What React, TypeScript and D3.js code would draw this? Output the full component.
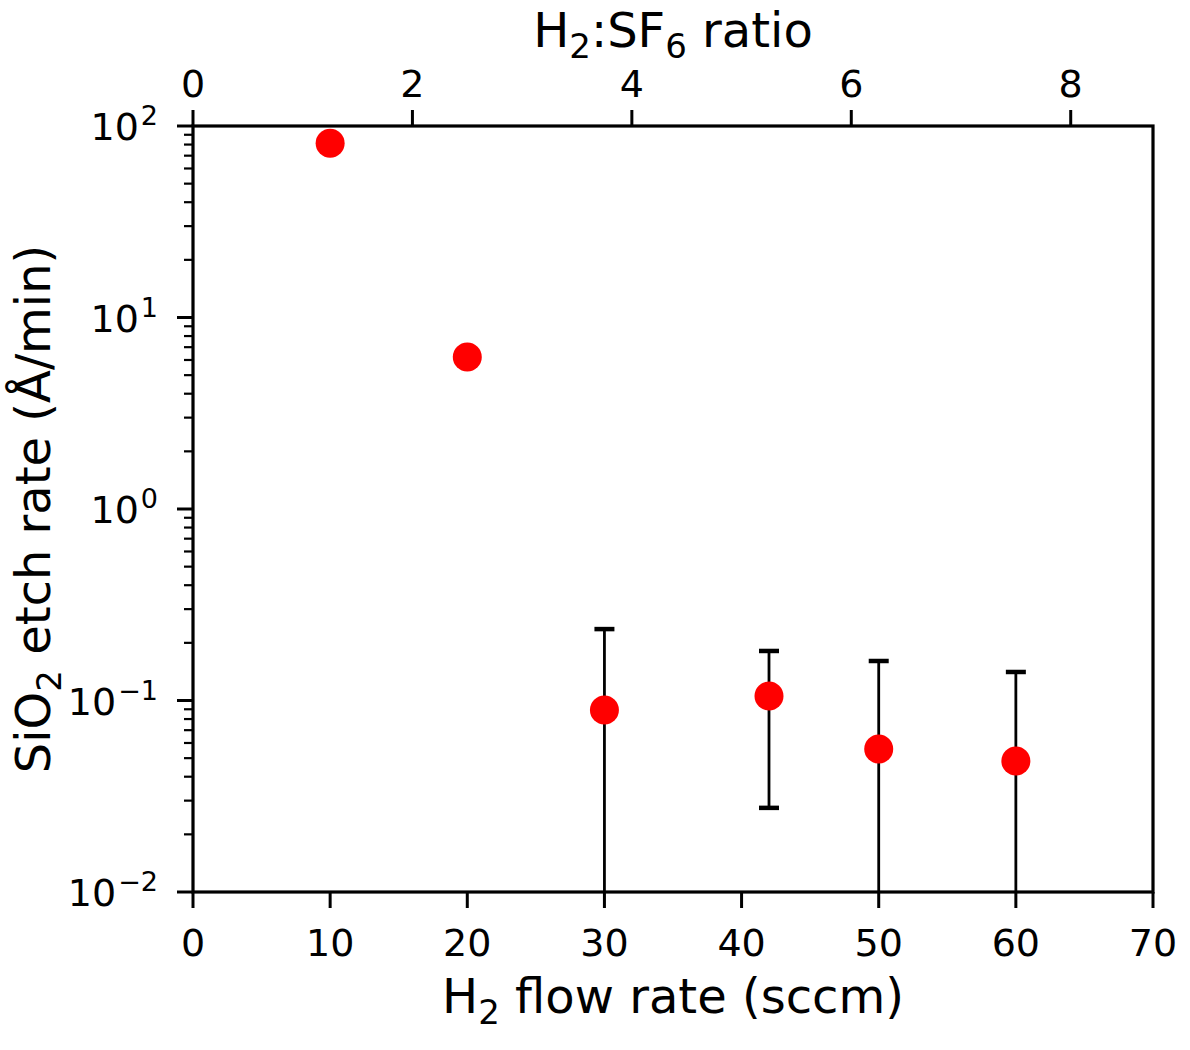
import { useEffect, useRef } from "react";
import * as d3 from "d3";

// H2 flow (sccm) and measured SiO2 etch rate (Å/min)
const flowRates = [10, 20, 30, 42, 50, 60];
const etchRates = [81.2, 6.22, 0.0892, 0.1056, 0.0558, 0.0483];
// error bar bounds, null = no bar, 0 = runs off the bottom of the axis
const errHigh = [null, null, 0.236, 0.1814, 0.1608, 0.1409];
const errLow = [null, null, 0, 0.0275, 0, 0];

const bottomTicks = [0, 10, 20, 30, 40, 50, 60, 70];
const topTicks = [0, 2, 4, 6, 8];
const yDecades = [-2, -1, 0, 1, 2];
const sf6Flow = 8; // ratio = H2 / 8 sccm SF6

const FONT = "DejaVu Sans, sans-serif";

const App = () => {
  const svgRef = useRef(null);

  useEffect(() => {
    if (!svgRef.current) return;
    d3.select(svgRef.current).selectAll("*").remove();

    const W = 1190;
    const H = 1050;
    const margin = { top: 126, right: 37, bottom: 158, left: 193 };
    const width = W - margin.left - margin.right;
    const height = H - margin.top - margin.bottom;

    const svg = d3
      .select(svgRef.current)
      .attr("width", W)
      .attr("height", H)
      .append("g")
      .attr("transform", `translate(${margin.left},${margin.top})`);

    const x = d3.scaleLinear().domain([0, 70]).range([0, width]);
    const xTop = d3
      .scaleLinear()
      .domain([0, 70 / sf6Flow])
      .range([0, width]);
    const y = d3.scaleLog().domain([0.01, 100]).range([height, 0]);
    const yMin = 0.01;

    // minor ticks on y (2..9 per decade)
    const minor: number[] = [];
    yDecades.slice(0, -1).forEach((e) => {
      for (let k = 2; k <= 9; k++) minor.push(k * Math.pow(10, e));
    });
    svg
      .selectAll(".minor")
      .data(minor)
      .enter()
      .append("line")
      .attr("x1", -9)
      .attr("x2", 0)
      .attr("y1", (d) => y(d))
      .attr("y2", (d) => y(d))
      .attr("stroke", "#000")
      .attr("stroke-width", 2.2);

    // major y ticks + labels 10^n
    yDecades.forEach((e) => {
      const yy = y(Math.pow(10, e));
      svg
        .append("line")
        .attr("x1", -16)
        .attr("x2", 0)
        .attr("y1", yy)
        .attr("y2", yy)
        .attr("stroke", "#000")
        .attr("stroke-width", 3);
      const t = svg
        .append("text")
        .attr("x", -35)
        .attr("y", yy + 14)
        .attr("text-anchor", "end")
        .attr("font-family", FONT)
        .attr("font-size", 38);
      t.append("tspan").text("10");
      t.append("tspan")
        .attr("dy", -15)
        .attr("dx", 2)
        .attr("font-size", 27)
        .text(e < 0 ? `\u2212${-e}` : `${e}`);
    });

    // bottom ticks
    bottomTicks.forEach((v) => {
      svg
        .append("line")
        .attr("x1", x(v))
        .attr("x2", x(v))
        .attr("y1", height)
        .attr("y2", height + 16)
        .attr("stroke", "#000")
        .attr("stroke-width", 3);
      svg
        .append("text")
        .attr("x", x(v))
        .attr("y", height + 64)
        .attr("text-anchor", "middle")
        .attr("font-family", FONT)
        .attr("font-size", 38)
        .text(v);
    });

    // top ticks (H2:SF6 ratio)
    topTicks.forEach((v) => {
      svg
        .append("line")
        .attr("x1", xTop(v))
        .attr("x2", xTop(v))
        .attr("y1", 0)
        .attr("y2", -16)
        .attr("stroke", "#000")
        .attr("stroke-width", 3);
      svg
        .append("text")
        .attr("x", xTop(v))
        .attr("y", -29)
        .attr("text-anchor", "middle")
        .attr("font-family", FONT)
        .attr("font-size", 38)
        .text(v);
    });

    // frame
    svg
      .append("rect")
      .attr("x", 0)
      .attr("y", 0)
      .attr("width", width)
      .attr("height", height)
      .attr("fill", "none")
      .attr("stroke", "#000")
      .attr("stroke-width", 3.2);

    // error bars
    const capW = 10;
    flowRates.forEach((f, i) => {
      const hi = errHigh[i];
      const lo = errLow[i];
      if (hi === null || lo === null) return;
      const cx = x(f);
      const yHi = y(hi);
      const yLo = y(Math.max(lo, yMin));
      svg
        .append("line")
        .attr("x1", cx)
        .attr("x2", cx)
        .attr("y1", yHi)
        .attr("y2", yLo)
        .attr("stroke", "#000")
        .attr("stroke-width", 2.8);
      svg
        .append("line")
        .attr("x1", cx - capW)
        .attr("x2", cx + capW)
        .attr("y1", yHi)
        .attr("y2", yHi)
        .attr("stroke", "#000")
        .attr("stroke-width", 4.5);
      if (lo > yMin) {
        svg
          .append("line")
          .attr("x1", cx - capW)
          .attr("x2", cx + capW)
          .attr("y1", yLo)
          .attr("y2", yLo)
          .attr("stroke", "#000")
          .attr("stroke-width", 4.5);
      }
    });

    // points
    svg
      .selectAll(".pt")
      .data(flowRates)
      .enter()
      .append("circle")
      .attr("cx", (d) => x(d))
      .attr("cy", (_d, i) => y(etchRates[i]))
      .attr("r", 14.5)
      .attr("fill", "#ff0000");

    // axis labels
    const xl = svg
      .append("text")
      .attr("x", width / 2)
      .attr("y", height + 121)
      .attr("text-anchor", "middle")
      .attr("font-family", FONT)
      .attr("font-size", 48);
    xl.append("tspan").text("H");
    xl.append("tspan").attr("dy", 11).attr("font-size", 34).text("2");
    xl.append("tspan").attr("dy", -11).text(" flow rate (sccm)");

    const tl = svg
      .append("text")
      .attr("x", width / 2)
      .attr("y", -79)
      .attr("text-anchor", "middle")
      .attr("font-family", FONT)
      .attr("font-size", 48);
    tl.append("tspan").text("H");
    tl.append("tspan").attr("dy", 11).attr("font-size", 34).text("2");
    tl.append("tspan").attr("dy", -11).text(":SF");
    tl.append("tspan").attr("dy", 11).attr("font-size", 34).text("6");
    tl.append("tspan").attr("dy", -11).text(" ratio");

    const yl = svg
      .append("text")
      .attr("transform", `translate(${-143},${height / 2}) rotate(-90)`)
      .attr("text-anchor", "middle")
      .attr("font-family", FONT)
      .attr("font-size", 48);
    yl.append("tspan").text("SiO");
    yl.append("tspan").attr("dy", 11).attr("font-size", 34).text("2");
    yl.append("tspan").attr("dy", -11).text(" etch rate (Å/min)");
  }, []);

  return (
    <div style={{ position: "absolute", left: 0, top: 0, background: "#fff" }}>
      <svg ref={svgRef} style={{ display: "block" }} />
    </div>
  );
};

export default App;
